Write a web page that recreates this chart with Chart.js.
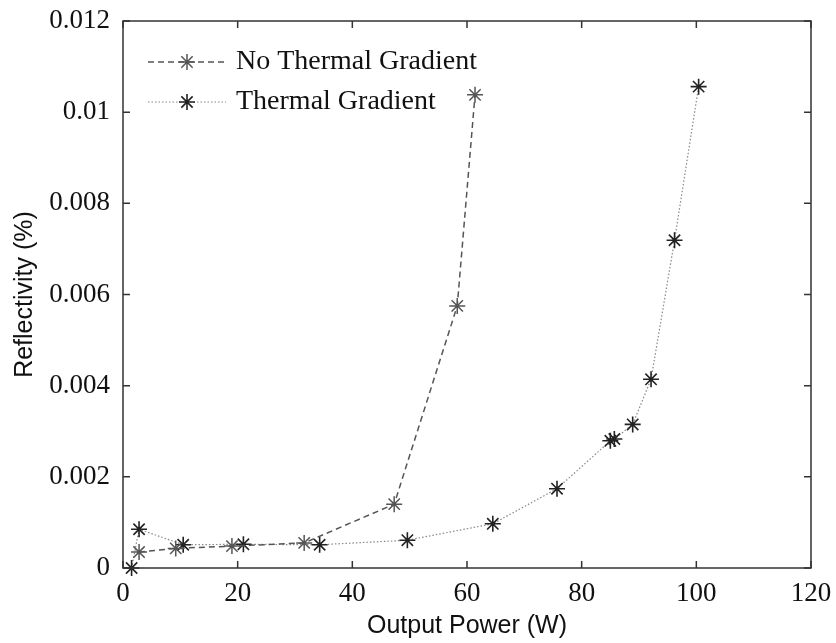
<!DOCTYPE html>
<html>
<head>
<meta charset="utf-8">
<script src="https://cdn.jsdelivr.net/npm/chart.js@4.4.1/dist/chart.umd.min.js"></script>
<style>
  html, body { margin: 0; padding: 0; background: #fff; }
  #wrap { width: 836px; height: 643px; }
</style>
</head>
<body>
<div id="wrap"><canvas id="reflChart" width="836" height="643"></canvas></div>
<script>
// values
const xNoThermal = [2.8, 9.2, 19.0, 31.6, 47.3, 58.3, 61.4];
const yNoThermal = [0.00035, 0.00043, 0.00048, 0.00055, 0.00140, 0.00575, 0.01038];

const xThermal = [1.5, 2.8, 10.5, 21.0, 34.3, 49.6, 64.5, 75.7, 85.0, 85.7, 88.9, 92.1, 96.2, 100.4];
const yThermal = [0, 0.00085, 0.00051, 0.00052, 0.00051, 0.00061, 0.00097, 0.00174, 0.00279, 0.00283, 0.00315, 0.00414, 0.00719, 0.01056];

const xTicks = [0, 20, 40, 60, 80, 100, 120];
const yTicks = [0, 0.002, 0.004, 0.006, 0.008, 0.01, 0.012];
const yTickLabels = ['0', '0.002', '0.004', '0.006', '0.008', '0.01', '0.012'];

const seriesNames = ['No Thermal Gradient', 'Thermal Gradient'];

function toPoints(xs, ys) {
    return xs.map((x, i) => ({ x: x, y: ys[i] }));
}

// box + inward ticks on all four sides, like the original
const boxPlugin = {
    id: 'boxPlugin',
    afterDraw(chart) {
        const ctx = chart.ctx;
        const a = chart.chartArea;
        const xs = chart.scales.x, ys = chart.scales.y;
        const len = 7;
        ctx.save();
        ctx.strokeStyle = '#333';
        ctx.lineWidth = 1.5;
        ctx.strokeRect(a.left, a.top, a.right - a.left, a.bottom - a.top);
        ctx.beginPath();
        xTicks.forEach(v => {
            const px = xs.getPixelForValue(v);
            ctx.moveTo(px, a.bottom); ctx.lineTo(px, a.bottom - len);
            ctx.moveTo(px, a.top); ctx.lineTo(px, a.top + len);
        });
        yTicks.forEach(v => {
            const py = ys.getPixelForValue(v);
            ctx.moveTo(a.left, py); ctx.lineTo(a.left + len, py);
            ctx.moveTo(a.right, py); ctx.lineTo(a.right - len, py);
        });
        ctx.stroke();
        ctx.restore();
    }
};

// legend drawn inside the plot, line sample with the marker in the middle
const legendPlugin = {
    id: 'insideLegend',
    afterDatasetsDraw(chart) {
        const ctx = chart.ctx;
        const a = chart.chartArea;
        const x0 = a.left + 25, x1 = a.left + 103, tx = a.left + 113;
        ctx.save();
        chart.data.datasets.forEach((ds, i) => {
            const y = a.top + 41 + i * 40;
            ctx.strokeStyle = ds.borderColor;
            ctx.lineWidth = ds.borderWidth;
            ctx.setLineDash(ds.borderDash || []);
            ctx.beginPath();
            ctx.moveTo(x0, y); ctx.lineTo(x1, y);
            ctx.stroke();
            ctx.setLineDash([]);
            ctx.strokeStyle = ds.pointBorderColor;
            ctx.lineWidth = ds.pointBorderWidth;
            Chart.helpers.drawPoint(ctx, { pointStyle: 'star', radius: ds.pointRadius, rotation: 0, borderWidth: ds.pointBorderWidth }, (x0 + x1) / 2, y);
            ctx.fillStyle = '#111';
            ctx.font = '28px "Liberation Serif", "Times New Roman", serif';
            ctx.textBaseline = 'middle';
            ctx.fillText(ds.label, tx, y);
        });
        ctx.restore();
    }
};

const data = {
    datasets: [{
        label: seriesNames[0],
        data: toPoints(xNoThermal, yNoThermal),
        borderColor: '#555',
        borderWidth: 1.5,
        borderDash: [6, 4],
        pointStyle: 'star',
        pointRadius: 8,
        pointBorderColor: '#555',
        pointBorderWidth: 1.5,
        pointBackgroundColor: '#555',
        showLine: true,
        clip: false
    }, {
        label: seriesNames[1],
        data: toPoints(xThermal, yThermal),
        borderColor: '#888',
        borderWidth: 1.2,
        borderDash: [1.5, 2],
        pointStyle: 'star',
        pointRadius: 8,
        pointBorderColor: '#222',
        pointBorderWidth: 1.6,
        pointBackgroundColor: '#222',
        showLine: true,
        clip: false
    }]
};

const options = {
    responsive: false,
    animation: false,
    layout: { padding: { left: 0, right: 25, top: 21, bottom: 0 } },
    plugins: { legend: { display: false }, tooltip: { enabled: false } },
    scales: {
        x: {
            type: 'linear',
            min: 0, max: 120,
            afterBuildTicks: s => { s.ticks = xTicks.map(v => ({ value: v })); },
            afterFit: s => { s.height = 75; s.paddingLeft = 0; s.paddingRight = 0; },
            grid: { display: false, drawTicks: false },
            border: { display: false },
            ticks: {
                padding: 10,
                color: '#111',
                font: { family: '"Liberation Serif", "Times New Roman", serif', size: 27 },
                callback: v => String(v)
            },
            title: {
                display: true,
                text: 'Output Power (W)',
                color: '#111',
                padding: { top: 0, bottom: 2 },
                font: { family: '"Liberation Sans", Arial, sans-serif', size: 25 }
            }
        },
        y: {
            type: 'linear',
            min: 0, max: 0.012,
            afterBuildTicks: s => { s.ticks = yTicks.map(v => ({ value: v })); },
            afterFit: s => { s.width = 123; s.paddingTop = 0; s.paddingBottom = 0; },
            grid: { display: false, drawTicks: false },
            border: { display: false },
            ticks: {
                padding: 13,
                color: '#111',
                font: { family: '"Liberation Serif", "Times New Roman", serif', size: 27 },
                callback: (v, i) => yTickLabels[i]
            },
            title: {
                display: true,
                text: 'Reflectivity (%)',
                color: '#111',
                padding: { top: 10, bottom: 0 },
                font: { family: '"Liberation Sans", Arial, sans-serif', size: 25 }
            }
        }
    }
};

new Chart(document.getElementById('reflChart'), {
    type: 'scatter',
    data: data,
    options: options,
    plugins: [boxPlugin, legendPlugin]
});
</script>
</body>
</html>
